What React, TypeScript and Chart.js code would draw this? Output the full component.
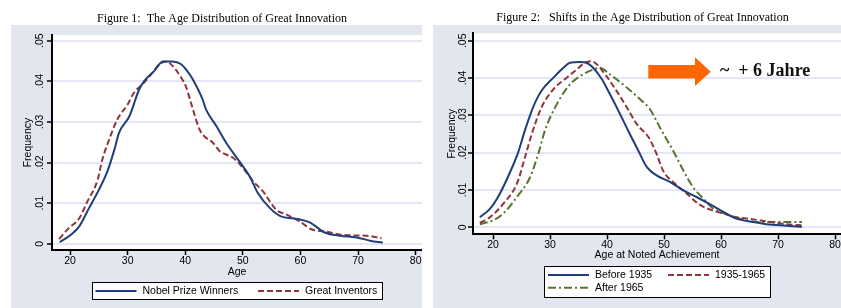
import React, { useEffect, useRef } from "react";
import { Chart, registerables } from "chart.js";

Chart.register(...registerables);

// ---------- shared axis data ----------
const xTicks = [20, 30, 40, 50, 60, 70, 80];
const yTicks = [0, 0.01, 0.02, 0.03, 0.04, 0.05];
const yTickLabels = ["0", ".01", ".02", ".03", ".04", ".05"];

// ---------- Figure 1 ----------
const fig1Title = "Figure 1:  The Age Distribution of Great Innovation";
const fig1XTitle = "Age";
const nobelLabel = "Nobel Prize Winners";
const nobelAges = [18.2, 20.1, 21.6, 23.3, 25.0, 26.5, 27.7, 28.5, 30.3, 32.0, 32.9, 34.6, 36.1, 37.8, 39.3, 40.1, 41.3, 43.0, 43.6, 45.4, 47.1, 49.4, 51.2, 52.6, 54.7, 56.7, 58.7, 61.6, 64.2, 66.9, 69.8, 72.1, 74.3];
const nobelFreq = [0.0004, 0.0022, 0.0043, 0.0088, 0.0133, 0.0179, 0.0232, 0.0273, 0.0314, 0.0380, 0.0401, 0.0425, 0.0449, 0.0449, 0.0442, 0.0430, 0.0405, 0.0356, 0.0331, 0.0290, 0.0249, 0.0203, 0.0166, 0.0125, 0.0088, 0.0067, 0.0063, 0.0053, 0.0028, 0.0020, 0.0016, 0.0008, 0.0003];
const inventorLabel = "Great Inventors";
const inventorAges = [18.1, 19.8, 21.6, 23.0, 24.8, 25.6, 26.8, 28.2, 30.0, 31.1, 32.6, 34.3, 35.5, 36.7, 37.8, 39.3, 40.1, 41.0, 42.5, 43.3, 44.8, 46.0, 47.1, 48.3, 50.0, 51.8, 53.5, 55.8, 57.6, 59.9, 61.9, 64.5, 67.4, 71.5, 74.1];
const inventorFreq = [0.0012, 0.0039, 0.0063, 0.0104, 0.0158, 0.0207, 0.0257, 0.0306, 0.0343, 0.0372, 0.0393, 0.0421, 0.0442, 0.0449, 0.0438, 0.0409, 0.0388, 0.0347, 0.0281, 0.0265, 0.0249, 0.0228, 0.0220, 0.0212, 0.0187, 0.0154, 0.0129, 0.0084, 0.0072, 0.0055, 0.0036, 0.0030, 0.0022, 0.0020, 0.0014];

// ---------- Figure 2 ----------
const fig2Title = "Figure 2:   Shifts in the Age Distribution of Great Innovation";
const fig2XTitle = "Age at Noted Achievement";
const annotationText = "~  + 6 Jahre";
const before1935Label = "Before 1935";
const before1935Ages = [17.7, 19.5, 21.2, 23.0, 24.4, 25.5, 26.5, 27.5, 28.5, 30.6, 32.3, 33.5, 35.3, 36.4, 37.6, 39.1, 40.5, 42.3, 44.0, 45.5, 47.0, 48.7, 51.1, 53.4, 55.7, 58.1, 60.4, 62.7, 65.7, 68.0, 71.5, 74.2];
const before1935Freq = [0.0027, 0.0050, 0.0090, 0.0148, 0.0200, 0.0255, 0.0300, 0.0338, 0.0366, 0.0401, 0.0427, 0.0441, 0.0443, 0.0441, 0.0427, 0.0397, 0.0357, 0.0303, 0.0250, 0.0205, 0.0161, 0.0139, 0.0121, 0.0099, 0.0081, 0.0061, 0.0041, 0.0023, 0.0014, 0.0008, 0.0004, 0.0001];
const mid1965Label = "1935-1965";
const mid1965Ages = [17.7, 19.5, 21.8, 24.2, 25.6, 26.8, 28.5, 30.6, 32.6, 34.7, 36.1, 37.3, 38.2, 39.9, 41.7, 43.5, 45.2, 47.3, 48.6, 49.9, 51.9, 54.0, 56.0, 58.1, 60.4, 62.7, 65.7, 68.6, 71.5, 74.2];
const mid1965Freq = [0.0012, 0.0027, 0.0063, 0.0117, 0.0187, 0.0250, 0.0321, 0.0370, 0.0397, 0.0423, 0.0441, 0.0445, 0.0437, 0.0405, 0.0365, 0.0321, 0.0277, 0.0241, 0.0200, 0.0150, 0.0117, 0.0090, 0.0063, 0.0047, 0.0037, 0.0027, 0.0021, 0.0014, 0.0008, 0.0005];
const after1965Label = "After 1965";
const after1965Ages = [17.7, 20.1, 21.8, 24.2, 26.5, 28.0, 29.1, 31.2, 33.5, 35.8, 37.6, 38.8, 40.5, 43.5, 45.8, 47.5, 49.3, 51.6, 53.4, 55.1, 56.9, 58.6, 61.0, 63.3, 66.3, 69.2, 74.2];
const after1965Freq = [0.0008, 0.0019, 0.0037, 0.0081, 0.0134, 0.0200, 0.0259, 0.0330, 0.0383, 0.0410, 0.0423, 0.0427, 0.0410, 0.0374, 0.0343, 0.0317, 0.0267, 0.0205, 0.0152, 0.0107, 0.0077, 0.0050, 0.0035, 0.0023, 0.0014, 0.0014, 0.0014];

// ---------- styling ----------
const NAVY = "#1f3f7a";
const MAROON = "#90353b";
const GREEN = "#55752f";
const PANEL_BG = "#e2e6ef";
const GRID = "#e6e6f8";
const SANS = "'Liberation Sans', Arial, sans-serif";
const SERIF = "'Liberation Serif', 'Times New Roman', serif";

const pts = (xs: number[], ys: number[]) => xs.map((x, i) => ({ x, y: ys[i] }));

type LegendItem = { ds: number; x: number; y: number };
type Spec = {
  left: number;
  w: number;
  title: string;
  titleX: number;
  titleY: number;
  bgX: number;
  bgY: number;
  padTop: number;
  padBottom: number;
  xH: number;
  yW: number;
  yTitlePad: number;
  yLabelX: number;
  xMin: number;
  xMax: number;
  yMin: number;
  yMax: number;
  xTitle: string;
  datasets: any[];
  legendBox: [number, number, number, number];
  legendItems: LegendItem[];
  lineLen: number;
  arrow?: boolean;
};

const line = (label: string, xs: number[], ys: number[], color: string, dash: number[]) => ({
  label,
  data: pts(xs, ys),
  borderColor: color,
  backgroundColor: color,
  borderWidth: 2,
  borderDash: dash,
  pointRadius: 0,
  fill: false,
  cubicInterpolationMode: "monotone",
});

const leftSpec: Spec = {
  left: 0,
  w: 422,
  title: fig1Title,
  titleX: 222,
  titleY: 18.5,
  bgX: 11,
  bgY: 25,
  padTop: 35,
  padBottom: 30,
  xH: 28,
  yW: 52,
  yTitlePad: 21.7,
  yLabelX: 40,
  xMin: 16.87,
  xMax: 81.1,
  yMin: -0.0015,
  yMax: 0.0514,
  xTitle: fig1XTitle,
  datasets: [
    line(nobelLabel, nobelAges, nobelFreq, NAVY, []),
    line(inventorLabel, inventorAges, inventorFreq, MAROON, [6, 3]),
  ],
  legendBox: [92, 282, 290, 17],
  legendItems: [
    { ds: 0, x: 95.5, y: 291 },
    { ds: 1, x: 258, y: 291 },
  ],
  lineLen: 41,
};

const rightSpec: Spec = {
  left: 422,
  w: 419,
  title: fig2Title,
  titleX: 220.5,
  titleY: 17.5,
  bgX: 11,
  bgY: 25,
  padTop: 33.3,
  padBottom: 46.2,
  xH: 27.5,
  yW: 51,
  yTitlePad: 23.4,
  yLabelX: 41,
  xMin: 16.49,
  xMax: 81.05,
  yMin: -0.0019,
  yMax: 0.052,
  xTitle: fig2XTitle,
  datasets: [
    line(before1935Label, before1935Ages, before1935Freq, NAVY, []),
    line(mid1965Label, mid1965Ages, mid1965Freq, MAROON, [6, 3]),
    line(after1965Label, after1965Ages, after1965Freq, GREEN, [8, 3, 2, 3]),
  ],
  legendBox: [122, 266, 226, 31],
  legendItems: [
    { ds: 0, x: 126, y: 275 },
    { ds: 1, x: 246, y: 275 },
    { ds: 2, x: 126, y: 287.7 },
  ],
  lineLen: 41,
  arrow: true,
};

function buildConfig(spec: Spec): any {
  const decor = {
    id: "decor",
    beforeDraw(chart: any) {
      const { ctx, chartArea: ca } = chart;
      ctx.save();
      ctx.fillStyle = PANEL_BG;
      ctx.fillRect(spec.bgX, spec.bgY, chart.width - spec.bgX, chart.height - spec.bgY);
      ctx.fillStyle = "#ffffff";
      ctx.fillRect(ca.left, ca.top, ca.right - ca.left, ca.bottom - ca.top);
      ctx.fillStyle = "#000";
      ctx.font = `12px ${SERIF}`;
      ctx.textAlign = "center";
      ctx.textBaseline = "middle";
      ctx.fillText(spec.title, spec.titleX, spec.titleY);
      ctx.restore();
    },
    afterDraw(chart: any) {
      const { ctx } = chart;
      const ys = chart.scales.y;
      ctx.save();
      ctx.fillStyle = "#000";
      ctx.font = `10.5px ${SANS}`;
      ctx.textAlign = "center";
      ctx.textBaseline = "middle";
      yTicks.forEach((v, i) => {
        const py = ys.getPixelForValue(v);
        ctx.save();
        ctx.translate(spec.yLabelX, py);
        ctx.rotate(-Math.PI / 2);
        ctx.fillText(yTickLabels[i], 0, 0);
        ctx.restore();
      });
      // legend
      const [bx, by, bw, bh] = spec.legendBox;
      ctx.fillStyle = "#fff";
      ctx.fillRect(bx, by, bw, bh);
      ctx.strokeStyle = "#000";
      ctx.lineWidth = 1;
      ctx.strokeRect(bx + 0.5, by + 0.5, bw, bh);
      spec.legendItems.forEach((it) => {
        const ds = chart.data.datasets[it.ds];
        ctx.strokeStyle = ds.borderColor;
        ctx.lineWidth = ds.borderWidth;
        ctx.setLineDash(ds.borderDash || []);
        ctx.beginPath();
        ctx.moveTo(it.x, it.y);
        ctx.lineTo(it.x + spec.lineLen, it.y);
        ctx.stroke();
        ctx.setLineDash([]);
        ctx.fillStyle = "#000";
        ctx.textAlign = "left";
        ctx.textBaseline = "middle";
        ctx.fillText(ds.label, it.x + spec.lineLen + 6, it.y + 0.5);
      });
      if (spec.arrow) {
        ctx.fillStyle = "#ff6600";
        ctx.beginPath();
        ctx.moveTo(226.3, 65);
        ctx.lineTo(273, 65);
        ctx.lineTo(273, 57.3);
        ctx.lineTo(288.7, 71.7);
        ctx.lineTo(273, 86);
        ctx.lineTo(273, 78.5);
        ctx.lineTo(226.3, 78.5);
        ctx.closePath();
        ctx.fill();
        ctx.fillStyle = "#111";
        ctx.font = `bold 18px ${SERIF}`;
        ctx.textAlign = "left";
        ctx.textBaseline = "alphabetic";
        ctx.fillText(annotationText, 298, 76);
      }
      ctx.restore();
    },
  };

  const tickFont = { family: SANS, size: 10.5 };
  return {
    type: "line",
    data: { datasets: spec.datasets },
    options: {
      animation: false,
      responsive: false,
      devicePixelRatio: 1,
      layout: {
        autoPadding: false,
        padding: { left: 0, right: 0, top: spec.padTop, bottom: spec.padBottom },
      },
      plugins: {
        legend: { display: false },
        tooltip: { enabled: false },
        title: { display: false },
      },
      elements: { point: { radius: 0 } },
      scales: {
        x: {
          type: "linear",
          min: spec.xMin,
          max: spec.xMax,
          afterBuildTicks: (s: any) => {
            s.ticks = xTicks.map((v) => ({ value: v }));
          },
          afterFit: (s: any) => {
            s.height = spec.xH;
          },
          ticks: { font: tickFont, color: "#000", padding: 0, maxRotation: 0, autoSkip: false },
          grid: { drawOnChartArea: false, drawTicks: true, tickLength: 5, tickColor: "#000", tickWidth: 1.5 },
          border: { display: true, color: "#000", width: 2 },
          title: { display: true, text: spec.xTitle, font: tickFont, color: "#000", padding: { top: 0, bottom: 0 } },
        },
        y: {
          type: "linear",
          min: spec.yMin,
          max: spec.yMax,
          afterBuildTicks: (s: any) => {
            s.ticks = yTicks.map((v) => ({ value: v }));
          },
          afterFit: (s: any) => {
            s.width = spec.yW;
          },
          ticks: { display: false },
          grid: { color: GRID, lineWidth: 2, drawTicks: true, tickLength: 5, tickColor: "#000", tickWidth: 1.5 },
          border: { display: true, color: "#000", width: 2 },
          title: { display: true, text: "Frequency", font: tickFont, color: "#000", padding: { top: spec.yTitlePad, bottom: 0 } },
        },
      },
    },
    plugins: [decor],
  };
}

function Panel({ spec }: { spec: Spec }) {
  const ref = useRef<HTMLCanvasElement | null>(null);
  useEffect(() => {
    if (!ref.current) return;
    const chart = new Chart(ref.current, buildConfig(spec));
    return () => chart.destroy();
  }, [spec]);
  return (
    <canvas
      ref={ref}
      width={spec.w}
      height={308}
      style={{ position: "absolute", left: spec.left, top: 0, width: spec.w, height: 308, display: "block" }}
    />
  );
}

export default function App() {
  return (
    <div style={{ position: "fixed", left: 0, top: 0, width: 841, height: 308, background: "#fff", overflow: "hidden" }}>
      <Panel spec={leftSpec} />
      <Panel spec={rightSpec} />
    </div>
  );
}
